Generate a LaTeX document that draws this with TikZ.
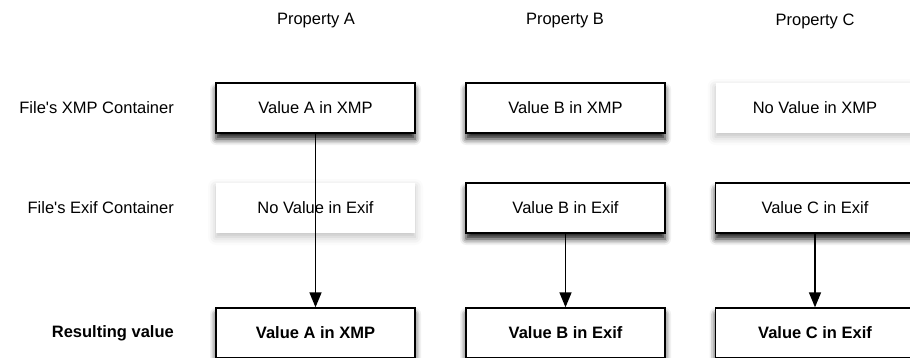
\documentclass[tikz,border=0pt]{standalone}
\usepackage{fontspec}
\setmainfont{Liberation Sans}
\usetikzlibrary{arrows.meta,shadows.blur}
\tikzset{
  txt/.style={font=\fontsize{16.5}{19}\selectfont},
  valbox/.style={txt, draw=black, line width=1.3pt, fill=white, minimum width=199pt, minimum height=50pt,
    inner sep=0pt,
    blur shadow={shadow xshift=0pt, shadow yshift=-6pt, shadow blur radius=6pt, shadow opacity=90}},
  emptybox/.style={txt, draw=none, fill=white, minimum width=199pt, minimum height=50pt,
    inner sep=0pt,
    blur shadow={shadow xshift=0pt, shadow yshift=-4pt, shadow blur radius=8pt, shadow opacity=25}},
  resbox/.style={valbox, font=\fontsize{16.5}{19}\selectfont\bfseries},
  rowlabel/.style={txt, anchor=east, inner sep=0pt},
  collabel/.style={txt, inner sep=0pt},
  flow/.style={line width=1.5pt, -{Triangle[width=12pt,length=15pt]}}
}
\begin{document}
\begin{tikzpicture}[x=1pt,y=-1pt]
  \useasboundingbox (0,0) rectangle (910,358);

  % column headings
  \node[collabel] (pa) at (316,21) {Property A};
  \node[collabel] (pb) at (565,21) {Property B};
  \node[collabel] (pc) at (815,21) {Property C};

  % row headings
  \node[rowlabel] (lx) at (174,108) {File\textquotesingle s XMP Container};
  \node[rowlabel] (le) at (174,208) {File\textquotesingle s Exif Container};
  \node[rowlabel, font=\fontsize{16.5}{19}\selectfont\bfseries] (lr) at (174,333) {Resulting value};

  % XMP row
  \node[valbox]   (ax) at (315.5,108) {Value A in XMP};
  \node[valbox]   (bx) at (565.5,108) {Value B in XMP};
  \node[emptybox] (cx) at (815,108)   {No Value in XMP};

  % Exif row
  \node[emptybox] (ae) at (315.5,208) {No Value in Exif};
  \node[valbox]   (be) at (565.5,208) {Value B in Exif};
  \node[valbox]   (ce) at (815,208)   {Value C in Exif};

  % resulting values
  \node[resbox] (ar) at (315.5,333) {Value A in XMP};
  \node[resbox] (br) at (565.5,333) {Value B in Exif};
  \node[resbox] (cr) at (815,333)   {Value C in Exif};

  % which container wins
  \draw[flow] (ax.south) -- (ar.north);
  \draw[flow] (be.south) -- (br.north);
  \draw[flow] (ce.south) -- (cr.north);
\end{tikzpicture}
\end{document}
